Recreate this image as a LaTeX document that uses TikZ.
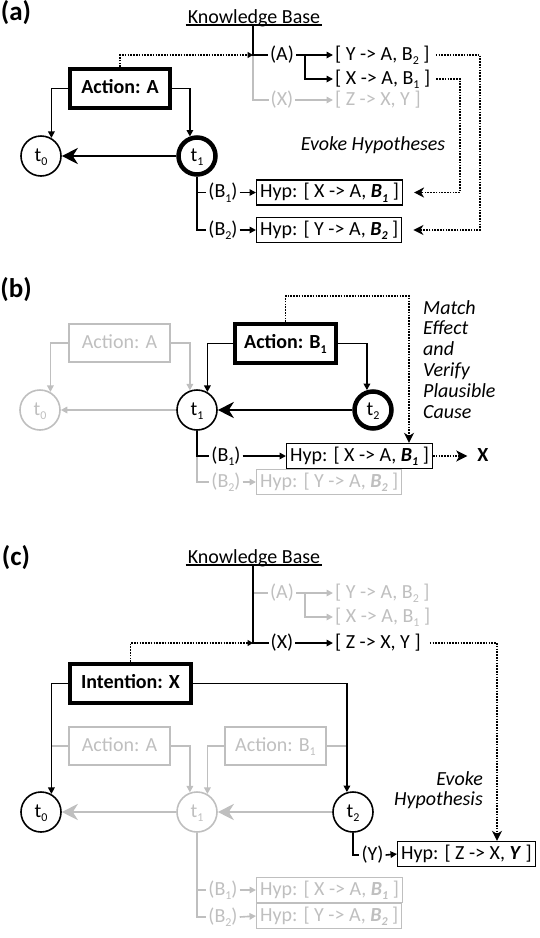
\documentclass[tikz,border=0pt]{standalone}
\usepackage{fontspec}
\setmainfont{Carlito}
\usetikzlibrary{arrows.meta}
\definecolor{lg}{RGB}{191,191,191}
\newcommand{\lowsub}[1]{\raisebox{-4.5pt}{\fontsize{12}{12}\selectfont #1}}
\begin{document}
\begin{tikzpicture}[x=1pt,y=-1pt,
  lbl/.style={font=\fontsize{20}{24}\selectfont, text height=15pt, text depth=5pt, inner ysep=0pt, inner xsep=2pt},
  itx/.style={font=\fontsize{20}{20.8}\selectfont\itshape, inner sep=0pt},
  pl/.style={font=\fontsize{27}{30}\selectfont\bfseries, inner sep=0pt},
  hyp/.style={lbl, draw, line width=1.3pt, inner xsep=3.5pt, inner ysep=2.5pt},
  act/.style={draw, line width=4pt, minimum height=39pt, inner sep=0pt, font=\fontsize{20}{24}\selectfont\bfseries, text height=15pt, text depth=5pt},
  gact/.style={draw, lg, line width=1.6pt, minimum height=38.5pt, inner sep=0pt, font=\fontsize{20}{24}\selectfont, text height=15pt, text depth=5pt},
  tc/.style={circle, draw, line width=1.6pt, minimum size=40pt, inner sep=0pt, font=\fontsize{20}{24}\selectfont, text height=15pt, text depth=5pt},
  tk/.style={tc, line width=4.5pt, minimum size=37pt},
  ln/.style={line width=1.6pt},
  con/.style={line width=1.6pt, -{Triangle[length=6.5pt,width=6.5pt]}},
  big/.style={line width=2.6pt, -{Stealth[length=16pt,width=16pt,inset=5pt]}},
  dot/.style={line width=1.6pt, dash pattern=on 1.6pt off 1.2pt},
  dtip/.style={-{Stealth[length=10pt,width=10pt,inset=3pt]}},
  stip/.style={-{Triangle[length=5.5pt,width=6pt]}}
]
\path[use as bounding box] (0,0) rectangle (540,938);

%% ================= (a) =================
\node[pl] (la) at (16,13) {(a)};
\node[lbl, anchor=base] (kbA) at (254,23) {Knowledge Base};
\draw[line width=1.3pt] ([yshift=-2pt]kbA.base west) -- ([yshift=-2pt]kbA.base east);
\coordinate (kA0) at (253,25);
\coordinate (kA1) at (253,55);
\coordinate (brA) at (305,55);
% gray branch
\node[lbl, lg] (xA) at (282,100) {(X)};
\node[lbl, lg, anchor=west] (zA) at (333,100) {[ Z -> X, Y ]};
\draw[ln, lg] (kA1) |- (xA.west);
\draw[con, lg] (xA.east) -- (zA.west);
% black branch
\node[lbl] (aA) at (282,55) {(A)};
\node[lbl, anchor=west] (yA) at (333,55) {[ Y -> A, B\lowsub{2} ]};
\node[lbl, anchor=west] (xbA) at (333,79) {[ X -> A, B\lowsub{1} ]};
\draw[ln] (kA0) -- (kA1) -- (aA.west);
\draw[con] (aA.east) -- (yA.west);
\draw[con] (brA) |- (xbA.west);
% hypotheses
\node[hyp, anchor=west] (hA1) at (256,192.5) {Hyp: [ X -> A, \textbf{\textit{B\lowsub{1}}} ]};
\node[hyp, anchor=west] (hA2) at (256,230) {Hyp: [ Y -> A, \textbf{\textit{B\lowsub{2}}} ]};
\coordinate (dA1) at (480,55);
\coordinate (dA2) at (460,79);
\draw[dot, dtip] ([xshift=4pt]yA.east) -- (dA1) -- (dA1 |- hA2.east) -- ([xshift=11pt]hA2.east);
\draw[dot, dtip] ([xshift=4pt]xbA.east) -- (dA2) -- (dA2 |- hA1.east) -- ([xshift=11pt]hA1.east);
\node[itx] (evA) at (373,145) {Evoke Hypotheses};
% actions and times
\node[act, minimum width=100pt] (actA) at (120,88.5) {Action: A};
\draw[dot, stip] (actA.north) |- (kA1);
\node[tc] (t0A) at (41,156) {t\lowsub{0}};
\node[tk] (t1A) at (197,156) {t\lowsub{1}};
\draw[con] (actA.west) -| (t0A.60);
\draw[con] (actA.east) -| (t1A.110);
\draw[big] (t1A) -- (t0A);
\node[lbl] (b1A) at (223,192.5) {(B\lowsub{1})};
\node[lbl] (b2A) at (223,230) {(B\lowsub{2})};
\draw[ln] (t1A.south) |- (b2A.west);
\draw[ln] (t1A.south |- b1A.west) -- (b1A.west);
\draw[con] (b1A.east) -- (hA1.west);
\draw[con] (b2A.east) -- (hA2.west);

%% ================= (b) =================
\node[pl] (lb) at (16,290) {(b)};
\node[gact, minimum width=101.5pt] (actAb) at (119.5,343) {Action: A};
\node[tc, lg] (t0b) at (40,410) {t\lowsub{0}};
\node[tc] (t1b) at (197,410) {t\lowsub{1}};
\node[tk] (t2b) at (373,410) {t\lowsub{2}};
\node[act, minimum width=101pt] (actBb) at (285.5,343.5) {Action: B\lowsub{1}};
\draw[con, lg] (actAb.west) -| (t0b.60);
\draw[con, lg] (actAb.east) -| (t1b.110);
\draw[con, lg] (t1b) -- (t0b);
\draw[con] (actBb.west) -| (t1b.60);
\draw[con] (actBb.east) -| (t2b.107);
\draw[big] (t2b) -- (t1b);
\node[lbl] (b1b) at (226,456) {(B\lowsub{1})};
\node[lbl, lg] (b2b) at (226,482) {(B\lowsub{2})};
\node[hyp, lg, anchor=west] (hB2) at (256,482) {Hyp: [ Y -> A, \textbf{\textit{B\lowsub{2}}} ]};
\node[hyp, anchor=west] (hB1) at (286,456) {Hyp: [ X -> A, \textbf{\textit{B\lowsub{1}}} ]};
\draw[ln, lg] (t1b.south |- b1b.west) |- (b2b.west);
\draw[con, lg] (b2b.east) -- (hB2.west);
\draw[ln] (t1b.south) |- (b1b.west);
\draw[con] (b1b.east) -- (hB1.west);
\coordinate (dB1) at (409,296);
\draw[dot, dtip] (actBb.north) |- (dB1) -- (dB1 |- hB1.north);
\node[lbl, font=\fontsize{20}{24}\selectfont\bfseries] (xB) at (483,456) {X};
\draw[dot, -{Stealth[length=11pt,width=11pt,inset=3pt]}, shorten >=8pt] (hB1.east) -- (xB.west);
\node[itx, align=left, anchor=north west] (mB) at (423,300) {Match\\Effect\\and\\Verify\\Plausible\\Cause};

%% ================= (c) =================
\node[pl] (lc) at (16,558) {(c)};
\node[lbl, anchor=base] (kbC) at (254,563) {Knowledge Base};
\draw[line width=1.3pt] ([yshift=-2pt]kbC.base west) -- ([yshift=-2pt]kbC.base east);
\coordinate (kC0) at (253,565);
\coordinate (kC1) at (253,593);
\coordinate (kC2) at (253,643);
\coordinate (brC) at (305,593);
% gray branch
\node[lbl, lg] (aC) at (282,593) {(A)};
\node[lbl, lg, anchor=west] (yC) at (333,593) {[ Y -> A, B\lowsub{2} ]};
\node[lbl, lg, anchor=west] (xbC) at (333,617) {[ X -> A, B\lowsub{1} ]};
\draw[ln, lg] (kC1) -- (aC.west);
\draw[con, lg] (aC.east) -- (yC.west);
\draw[con, lg] (brC) |- (xbC.west);
% black branch
\node[lbl] (xC) at (282,643) {(X)};
\node[lbl, anchor=west] (zC) at (333,643) {[ Z -> X, Y ]};
\draw[ln] (kC0) |- (xC.west);
\draw[con] (xC.east) -- (zC.west);
\node[hyp, anchor=west] (hC) at (397,854) {Hyp: [ Z -> X, \textbf{\textit{Y}} ]};
\coordinate (dC1) at (497,643);
\draw[dot, dtip] ([xshift=7pt]zC.east) -- (dC1) -- (dC1 |- hC.north);
\node[itx, align=right, anchor=north east] (evC) at (483,771) {Evoke\\Hypothesis};
% gray layer
\node[gact, minimum width=101.5pt] (actAc) at (119.5,746) {Action: A};
\node[gact, minimum width=101.5pt] (actBc) at (275.5,746) {Action: B\lowsub{1}};
\node[tc] (t0c) at (41,812) {t\lowsub{0}};
\node[tc, lg] (t1c) at (197,812) {t\lowsub{1}};
\node[tc] (t2c) at (353,812) {t\lowsub{2}};
\draw[ln, lg] (actAc.west) -- (actAc.west -| t0c.60);
\draw[ln, lg] (actBc.east) -- (actBc.east -| t2c.107);
\draw[con, lg] (actAc.east) -| (t1c.110);
\draw[con, lg] (actBc.west) -| (t1c.60);
\draw[big, lg] (t2c) -- (t1c);
\draw[big, lg] (t1c) -- (t0c);
\node[lbl, lg] (b1c) at (223,890) {(B\lowsub{1})};
\node[lbl, lg] (b2c) at (223,917) {(B\lowsub{2})};
\node[hyp, lg, anchor=west] (hC1) at (256,890) {Hyp: [ X -> A, \textbf{\textit{B\lowsub{1}}} ]};
\node[hyp, lg, anchor=west] (hC2) at (256,916) {Hyp: [ Y -> A, \textbf{\textit{B\lowsub{2}}} ]};
\draw[ln, lg] (t1c.south) |- (b2c.west);
\draw[ln, lg] (t1c.south |- b1c.west) -- (b1c.west);
\draw[con, lg] (b1c.east) -- (hC1.west);
\draw[con, lg] (b2c.east) -- (hC2.west);
% black layer
\node[act, minimum width=121pt] (intC) at (130.5,683.5) {Intention: X};
\draw[dot, stip] (intC.north) |- (kC2);
\draw[con] (intC.west) -| (t0c.60);
\draw[con] (intC.east) -| (t2c.107);
\node[lbl] (yLc) at (372.5,855) {(Y)};
\draw[ln] (t2c.south) |- (yLc.west);
\draw[con] (yLc.east) -- (hC.west);
\end{tikzpicture}
\end{document}
